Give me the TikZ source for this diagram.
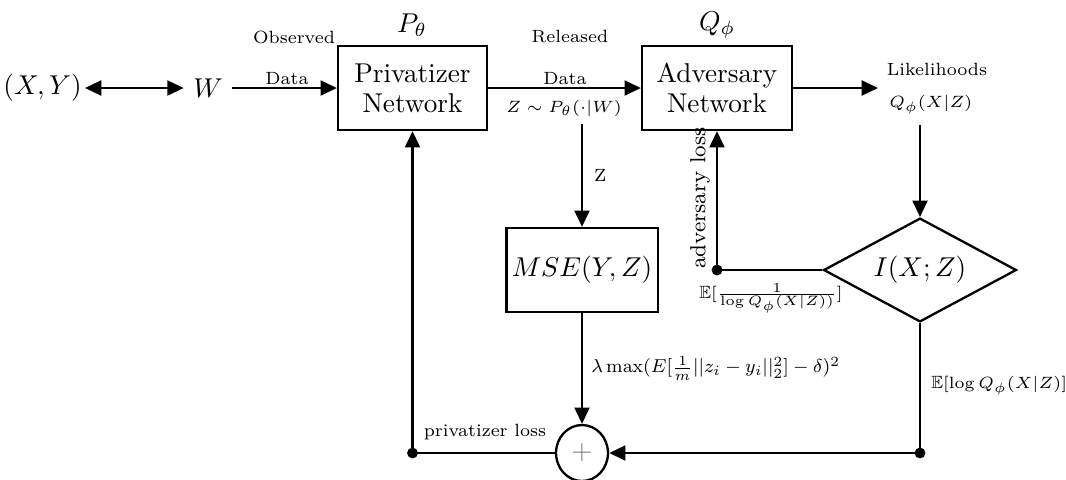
\documentclass[tikz,border=0pt]{standalone}
\usepackage{amsmath,amssymb}
\usetikzlibrary{arrows.meta,shapes.geometric}
\begin{document}
\begin{tikzpicture}[x=0.012908cm,y=-0.012908cm,
  >={Triangle[length=6pt,width=5.5pt]},
  line/.style={line width=0.85pt},
  block/.style={draw,line width=0.85pt,minimum width=1.923cm,minimum height=1.084cm,align=center,inner sep=2pt},
  lbl/.style={font=\fontsize{6.5}{8}\selectfont,inner sep=1pt},
  flbl/.style={font=\footnotesize,inner sep=1pt},
  junction/.style={fill,radius=2pt}]
\useasboundingbox (0,0) rectangle (1066,479);

% main blocks
\node[block] (priv) at (412.5,88) {Privatizer\\[-1pt]Network};
\node[block,minimum width=1.936cm] (adv) at (717,88) {Adversary\\[-1pt]Network};
\node[block,minimum width=1.91cm] (mse) at (582,270) {$MSE(Y,Z)$};
\node[draw,line width=0.85pt,shape=diamond,aspect=1.86,inner sep=0pt,
      minimum width=2.49cm,minimum height=1.34cm] (mi) at (920,270) {$I(X;Z)$};
\node[draw,line width=0.85pt,shape=ellipse,inner sep=0pt,
      minimum width=0.671cm,minimum height=0.723cm] (sum) at (582,453) {\color{gray}$+$};

% inputs
\node[inner sep=1pt,anchor=east] (xy) at (85,88) {$(X,Y)$};
\node (w) at (208,88) {$W$};

% parameter labels
\node (ptheta) at (412,25) {$P_\theta$};
\node (qphi) at (717,25) {$Q_\phi$};

% edge labels
\node[lbl] (obs) at (294,37) {Observed};
\node[lbl] (obsdata) at (287,79) {Data};
\node[lbl] (rel) at (570,37) {Released};
\node[lbl] (reldata) at (565,79) {Data};
\node[lbl] (zlab) at (564,108) {$Z\sim P_\theta(\cdot|W)$};
\node[lbl] (likl) at (937,69) {Likelihoods};
\node[lbl,anchor=west] (qout) at (886,105) {$Q_\phi(X|Z)$};
\coordinate (lik) at (878,88);

% junction points
\coordinate (pl) at (priv.south |- sum.west);
\coordinate (pr) at (mi.south |- sum.east);
\coordinate (pa) at (adv.south |- mi.west);

% forward flow
\draw[line,<->] (xy.east) -- (w.west);
\draw[line,->] (w.east) -- (priv.west);
\draw[line,->] (priv.east) -- (adv.west);
\draw[line,->] (adv.east) -- (lik);
\draw[line,->] (mi.north |- qout.south) ++(0,7) -- (mi.north);
\draw[line,->] (zlab.south -| mse.north) ++(0,5) -- node[right,lbl,xshift=3pt] (zl) {Z} (mse.north);
\draw[line,->] (mse.south) -- (sum.north);
\node[flbl,anchor=west] (lam) at (588,368)
  {\scalebox{0.86}{$\lambda\max(E[\frac{1}{m}||z_i-y_i||_2^2]-\delta)^2$}};

% adversary loss
\draw[line,->] (mi.west) -- (pa) -- (adv.south);
\fill[junction] (pa) circle;
\node[flbl,rotate=90] (advloss) at (700,198) {adversary loss};
\node[lbl,anchor=north] (einv) at (771,280) {$\mathbb{E}[\frac{1}{\log Q_\phi(X|Z))}]$};

% privatizer loss
\draw[line,->] (mi.south) -- (pr) -- (sum.east);
\fill[junction] (pr) circle;
\node[lbl,anchor=west] (elog) at (928,386) {$\mathbb{E}[\log Q_\phi(X|Z)]$};
\draw[line,->] (sum.west) -- (pl) -- (priv.south);
\fill[junction] (pl) circle;
\node[lbl] (ploss) at (485,432) {privatizer loss};
\end{tikzpicture}
\end{document}
